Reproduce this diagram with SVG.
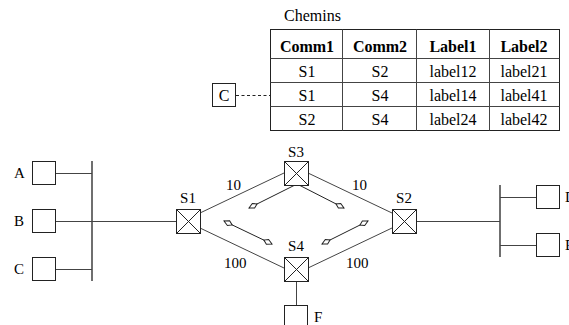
<svg xmlns="http://www.w3.org/2000/svg" width="569" height="325" viewBox="0 0 569 325">
<style>
text{font-family:"Liberation Serif","Times New Roman",serif;font-size:15px;fill:#000}
.t{font-size:16px}
.b{font-weight:bold}
.m{text-anchor:middle}
.box{fill:#fff;stroke:#222;stroke-width:1}
.ln{stroke:#444;stroke-width:1;fill:none}
.bus{stroke:#333;stroke-width:1.4;fill:none}
.arr{stroke:#222;stroke-width:1;fill:none;marker-start:url(#h);marker-end:url(#h)}
.arr1{stroke:#222;stroke-width:1;fill:none;marker-end:url(#h)}
</style>
<defs>
<marker id="h" viewBox="-10 -4 12 8" refX="0" refY="0" markerWidth="12" markerHeight="8" markerUnits="userSpaceOnUse" orient="auto-start-reverse">
<path d="M0,0 L-5,-2.6 L-9,0 L-5,2.6 Z" fill="#fff" stroke="#222" stroke-width="1"/>
</marker>
<g id="sw"><rect class="box" x="0" y="0" width="24" height="24"/><path d="M0,0 L24,24 M24,0 L0,24" stroke="#222" stroke-width="1"/></g>
</defs>

<g id="table">
<text x="284" y="21" class="t">Chemins</text>
<rect x="270.5" y="29.5" width="289" height="101" fill="#fff" stroke="#222"/>
<path class="ln" stroke="#222" d="M342.5,29.5 V130.5 M416.5,29.5 V130.5 M489.5,29.5 V130.5 M270.5,58.5 H559.5 M270.5,82.5 H559.5 M270.5,106.5 H559.5"/>
<text class="t b m" x="307" y="52">Comm1</text>
<text class="t b m" x="380" y="52">Comm2</text>
<text class="t b m" x="453" y="52">Label1</text>
<text class="t b m" x="524" y="52">Label2</text>
<text class="t m" x="307" y="77">S1</text>
<text class="t m" x="380" y="77">S2</text>
<text class="t m" x="453" y="77">label12</text>
<text class="t m" x="524" y="77">label21</text>
<text class="t m" x="307" y="101">S1</text>
<text class="t m" x="380" y="101">S4</text>
<text class="t m" x="453" y="101">label14</text>
<text class="t m" x="524" y="101">label41</text>
<text class="t m" x="307" y="125">S2</text>
<text class="t m" x="380" y="125">S4</text>
<text class="t m" x="453" y="125">label24</text>
<text class="t m" x="524" y="125">label42</text>
</g>

<g id="Ctable">
<rect class="box" x="212.5" y="83.5" width="23" height="23"/>
<text class="t m" x="224" y="101">C</text>
</g>

<g id="connectors">
<path d="M236,95.5 H270" stroke="#222" stroke-width="1" stroke-dasharray="3,2.5"/>
<path class="bus" d="M92,161 V281 M500,185 V257"/>
<path class="ln" d="M56,173.5 H92 M56,221.5 H176 M56,269.5 H92 M416,221.5 H500 M500,197.5 H536 M500,245.5 H536 M296.5,281 V305"/>
<path class="ln" d="M200,213 L284,173 M308,173 L392,213 M200,228 L284,268 M308,268 L392,228"/>
<path class="arr1" d="M295,185 L249,208"/>
<path class="arr1" d="M299,185 L344,208"/>
<path class="arr" d="M224,221 L272,244"/>
<path class="arr" d="M322,244 L368,221"/>
<text x="226" y="190">10</text>
<text x="352" y="190">10</text>
<text x="224" y="268">100</text>
<text x="346" y="268">100</text>
</g>

<g id="A"><rect class="box" x="32.5" y="161.5" width="23" height="23"/><text x="14" y="178">A</text></g>
<g id="B"><rect class="box" x="32.5" y="209.5" width="23" height="23"/><text x="14" y="226">B</text></g>
<g id="C"><rect class="box" x="32.5" y="257.5" width="23" height="23"/><text x="14" y="274">C</text></g>
<g id="D"><rect class="box" x="536.5" y="185.5" width="23" height="23"/><text x="565" y="202">D</text></g>
<g id="E"><rect class="box" x="536.5" y="233.5" width="23" height="23"/><text x="565" y="250">E</text></g>
<g id="F"><rect class="box" x="284.5" y="305.5" width="23" height="23"/><text x="314" y="322">F</text></g>

<g id="S1"><use href="#sw" x="176.5" y="209.5"/><text class="m" x="188" y="203">S1</text></g>
<g id="S3"><use href="#sw" x="284.5" y="161.5"/><text class="m" x="296" y="157">S3</text></g>
<g id="S2"><use href="#sw" x="392.5" y="209.5"/><text class="m" x="404" y="203">S2</text></g>
<g id="S4"><use href="#sw" x="284.5" y="257.5"/><text class="m" x="296" y="251">S4</text></g>
</svg>
